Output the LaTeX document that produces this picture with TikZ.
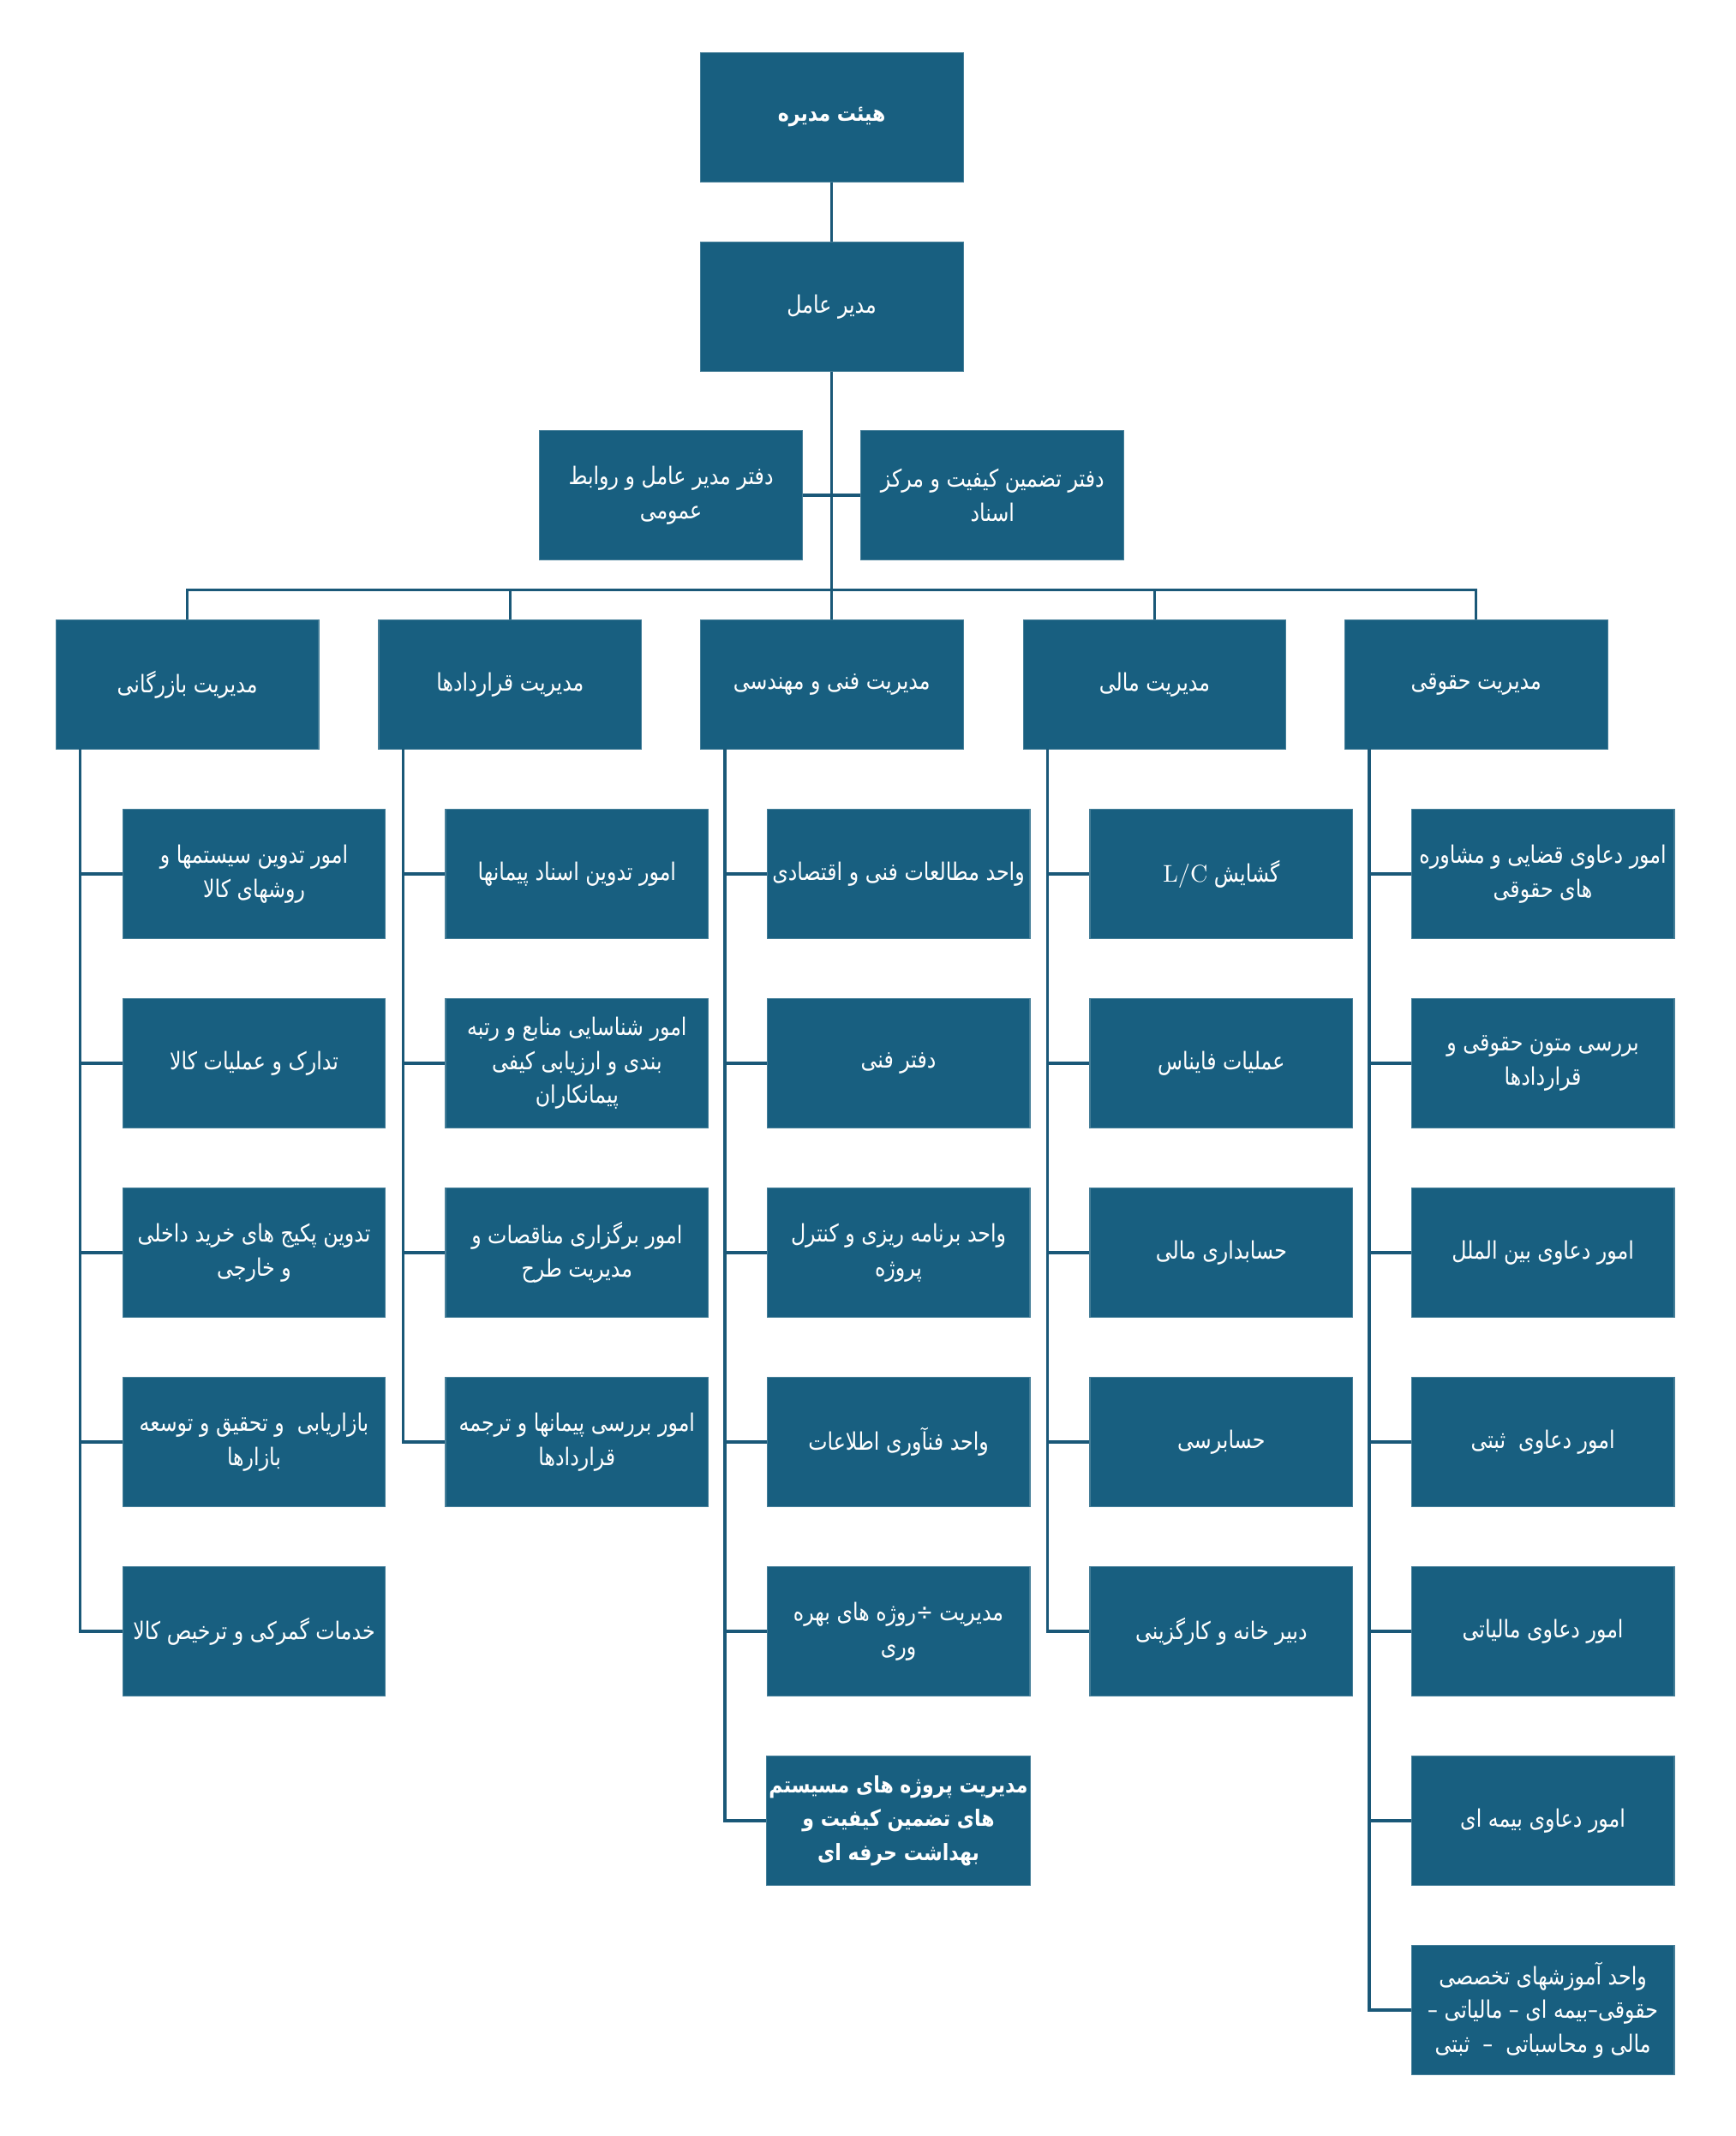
\documentclass[tikz,border=0pt]{standalone}
\usepackage{fontspec}
\newfontfamily\arabicfont[Script=Arabic, FakeStretch=0.84]{DejaVu Sans}
\TeXXeTstate=1
\newcommand{\fatext}[1]{\beginR#1\endR}

\definecolor{boxblue}{HTML}{185F80}
\definecolor{lineblue}{HTML}{1A5878}

\tikzset{
	unit/.style={draw=boxblue!80!white, fill=boxblue, text=white, minimum width=3.86cm, minimum height=1.9cm, inner sep=1pt, align=center, font=\arabicfont\fontsize{10.1}{14.2}\selectfont},
	boldunit/.style={unit, font=\arabicfont\bfseries\fontsize{9.4}{14.2}\selectfont},
	link/.style={draw=lineblue, line width=1.2pt}
}

\begin{document}
\begin{tikzpicture}[x=0.02cm, y=-0.02cm]

		\useasboundingbox (0,0) rectangle (1274,1568);

		% top levels
		\node[boldunit] (board) at (610.5, 86) {\fatext{هیئت مدیره}};
		\node[unit] (ceo) at (610.5, 225) {\fatext{مدیر عامل}};
		\node[unit] (staffL) at (492.5, 363.5) {\fatext{دفتر مدیر عامل و روابط}\\\fatext{عمومی}};
		\node[unit] (staffR) at (728.5, 363.5) {\fatext{دفتر تضمین کیفیت و مرکز}\\\fatext{اسناد}};

		% departments
		\node[unit] (d1) at (137.5, 502.5) {\fatext{مدیریت بازرگانی}};
		\node[unit] (d2) at (374.5, 502.5) {\fatext{مدیریت قراردادها}};
		\node[unit] (d3) at (610.5, 502.5) {\fatext{مدیریت فنی و مهندسی}};
		\node[unit] (d4) at (847.5, 502.5) {\fatext{مدیریت مالی}};
		\node[unit] (d5) at (1083.5, 502.5) {\fatext{مدیریت حقوقی}};

		% bazargani
		\node[unit] (a1) at (186.5, 641.5) {\fatext{امور تدوین سیستمها و}\\\fatext{روشهای کالا}};
		\node[unit] (a2) at (186.5, 780.5) {\fatext{تدارک و عملیات کالا}};
		\node[unit] (a3) at (186.5, 919.5) {\fatext{تدوین پکیج های خرید داخلی}\\\fatext{و خارجی}};
		\node[unit] (a4) at (186.5, 1058.5) {\fatext{بازاریابی~ و تحقیق و توسعه}\\\fatext{بازارها}};
		\node[unit] (a5) at (186.5, 1197.5) {\fatext{خدمات گمرکی و ترخیص کالا}};

		% gharardadha
		\node[unit] (b1) at (423.5, 641.5) {\fatext{امور تدوین اسناد پیمانها}};
		\node[unit] (b2) at (423.5, 780.5) {\fatext{امور شناسایی منابع و رتبه}\\\fatext{بندی و ارزیابی کیفی}\\\fatext{پیمانکاران}};
		\node[unit] (b3) at (423.5, 919.5) {\fatext{امور برگزاری مناقصات و}\\\fatext{مدیریت طرح}};
		\node[unit] (b4) at (423.5, 1058.5) {\fatext{امور بررسی پیمانها و ترجمه}\\\fatext{قراردادها}};

		% fanni
		\node[unit] (c1) at (659.5, 641.5) {\fatext{واحد مطالعات فنی و اقتصادی}};
		\node[unit] (c2) at (659.5, 780.5) {\fatext{دفتر فنی}};
		\node[unit] (c3) at (659.5, 919.5) {\fatext{واحد برنامه ریزی و کنترل}\\\fatext{پروژه}};
		\node[unit] (c4) at (659.5, 1058.5) {\fatext{واحد فنآوری اطلاعات}};
		\node[unit] (c5) at (659.5, 1197.5) {\fatext{مدیریت ÷روژه های بهره}\\\fatext{وری}};
		\node[boldunit] (c6) at (659.5, 1336.5) {\fatext{مدیریت پروژه های مسیستم}\\\fatext{های تضمین کیفیت و}\\\fatext{بهداشت حرفه ای}};

		% mali
		\node[unit] (e1) at (896.5, 641.5) {\fatext{گشایش \beginL{\rmfamily L/C}\endL}};
		\node[unit] (e2) at (896.5, 780.5) {\fatext{عملیات فایناس}};
		\node[unit] (e3) at (896.5, 919.5) {\fatext{حسابداری مالی}};
		\node[unit] (e4) at (896.5, 1058.5) {\fatext{حسابرسی}};
		\node[unit] (e5) at (896.5, 1197.5) {\fatext{دبیر خانه و کارگزینی}};

		% hoghoghi
		\node[unit] (f1) at (1132.5, 641.5) {\fatext{امور دعاوی قضایی و مشاوره}\\\fatext{های حقوقی}};
		\node[unit] (f2) at (1132.5, 780.5) {\fatext{بررسی متون حقوقی و}\\\fatext{قراردادها}};
		\node[unit] (f3) at (1132.5, 919.5) {\fatext{امور دعاوی بین الملل}};
		\node[unit] (f4) at (1132.5, 1058.5) {\fatext{امور دعاوی~ ثبتی}};
		\node[unit] (f5) at (1132.5, 1197.5) {\fatext{امور دعاوی مالیاتی}};
		\node[unit] (f6) at (1132.5, 1336.5) {\fatext{امور دعاوی بیمه ای}};
		\node[unit] (f7) at (1132.5, 1475.5) {\fatext{واحد آموزشهای تخصصی}\\\fatext{حقوقی–بیمه ای – مالیاتی –}\\\fatext{مالی و محاسباتی~ –~ ثبتی}};

		% upper connectors
		\coordinate (bus) at (610.5, 433);
		\draw[link] (board) -- (ceo);
		\draw[link] (ceo) -- (bus);
		\draw[link] (staffL) -- (staffR);
		\draw[link] (d1.north) |- (bus) -| (d5.north);
		\draw[link] (d2.north) -- (d2.north |- bus);
		\draw[link] (d3.north) -- (bus);
		\draw[link] (d4.north) -- (d4.north |- bus);

		% spines
		\coordinate (s1) at (59, 550);
		\coordinate (s2) at (296, 550);
		\coordinate (s3) at (532, 550);
		\coordinate (s4) at (769, 550);
		\coordinate (s5) at (1005, 550);

		\draw[link] (s1) |- (a5.west);
		\draw[link] (s1) |- (a1.west);
		\draw[link] (s1) |- (a2.west);
		\draw[link] (s1) |- (a3.west);
		\draw[link] (s1) |- (a4.west);

		\draw[link] (s2) |- (b4.west);
		\draw[link] (s2) |- (b1.west);
		\draw[link] (s2) |- (b2.west);
		\draw[link] (s2) |- (b3.west);

		\draw[link] (s3) |- (c6.west);
		\draw[link] (s3) |- (c1.west);
		\draw[link] (s3) |- (c2.west);
		\draw[link] (s3) |- (c3.west);
		\draw[link] (s3) |- (c4.west);
		\draw[link] (s3) |- (c5.west);

		\draw[link] (s4) |- (e5.west);
		\draw[link] (s4) |- (e1.west);
		\draw[link] (s4) |- (e2.west);
		\draw[link] (s4) |- (e3.west);
		\draw[link] (s4) |- (e4.west);

		\draw[link] (s5) |- (f7.west);
		\draw[link] (s5) |- (f1.west);
		\draw[link] (s5) |- (f2.west);
		\draw[link] (s5) |- (f3.west);
		\draw[link] (s5) |- (f4.west);
		\draw[link] (s5) |- (f5.west);
		\draw[link] (s5) |- (f6.west);

	\end{tikzpicture}
\end{document}
